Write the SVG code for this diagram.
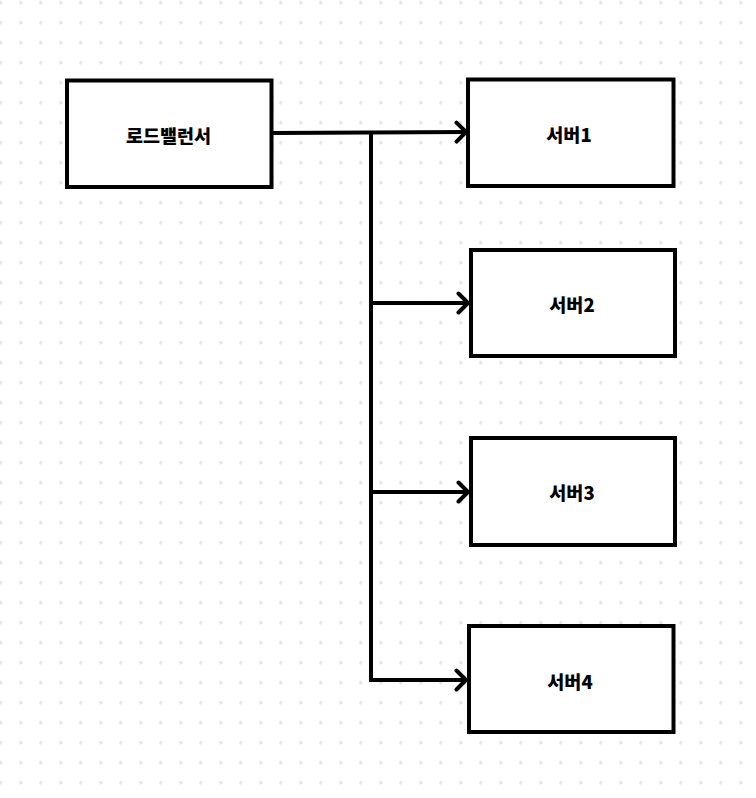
<svg xmlns="http://www.w3.org/2000/svg" width="756" height="798" viewBox="0 0 756 798">
<defs>
<pattern id="dots" x="0.7" y="2.7" width="20" height="20" patternUnits="userSpaceOnUse">
<circle cx="0" cy="0" r="1.7" fill="#e2e2e2"/>
<circle cx="20" cy="0" r="1.7" fill="#e2e2e2"/>
<circle cx="0" cy="20" r="1.7" fill="#e2e2e2"/>
<circle cx="20" cy="20" r="1.7" fill="#e2e2e2"/>
</pattern>
<marker id="arr" viewBox="0 0 14 24" refX="12" refY="12" markerWidth="14" markerHeight="24" markerUnits="userSpaceOnUse" orient="auto">
<path d="M2.5,2.5 L12,12 L2.5,21.5" fill="none" stroke="#000" stroke-width="4" stroke-linecap="round" stroke-linejoin="round"/>
</marker>
</defs>
<style>
.box{fill:#fff;stroke:#000;stroke-width:4}
.lbl{font-family:"Noto Sans CJK KR","Noto Sans",sans-serif;font-weight:900;font-size:18.5px;fill:#000;text-anchor:middle;dominant-baseline:central}
.ln{fill:none;stroke:#000;stroke-width:4}
</style>
<rect width="756" height="798" fill="#fff"/>
<rect width="756" height="798" fill="url(#dots)"/>
<g id="connectors">
<path class="ln" d="M273,133 L466,132" marker-end="url(#arr)"/>
<path class="ln" d="M371,133 L371,681"/>
<path class="ln" d="M371,303 L468,303" marker-end="url(#arr)"/>
<path class="ln" d="M371,492 L468,492" marker-end="url(#arr)"/>
<path class="ln" d="M369,680 L466,680" marker-end="url(#arr)"/>
</g>
<g id="lb"><rect class="box" x="67" y="80.5" width="204.5" height="106.5"/><text class="lbl" x="168.5" y="134.5">로드밸런서</text></g>
<g id="s1"><rect class="box" x="468" y="79.5" width="205.5" height="106.5"/><text class="lbl" x="569" y="133.5">서버1</text></g>
<g id="s2"><rect class="box" x="471" y="250" width="204" height="106"/><text class="lbl" x="572" y="304">서버2</text></g>
<g id="s3"><rect class="box" x="471" y="438" width="204" height="107"/><text class="lbl" x="572" y="492">서버3</text></g>
<g id="s4"><rect class="box" x="469" y="626" width="204.5" height="106"/><text class="lbl" x="570" y="681">서버4</text></g>
</svg>
